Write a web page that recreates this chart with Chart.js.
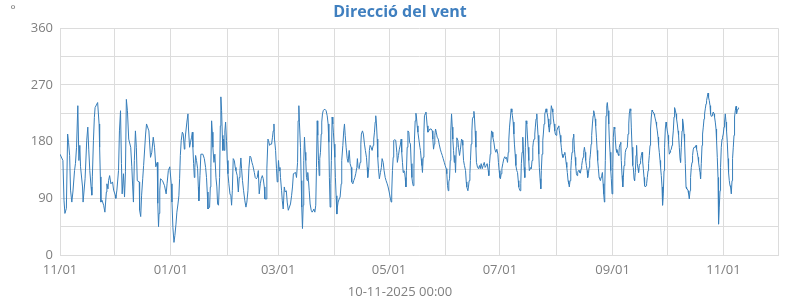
<!DOCTYPE html>
<html>
<head>
<meta charset="utf-8">
<script src="https://cdn.jsdelivr.net/npm/chart.js@4.4.1/dist/chart.umd.min.js"></script>
<style>
  html, body { margin: 0; padding: 0; background: #fff; }
  #chart { display: block; }
</style>
</head>
<body>
<canvas id="chart" width="800" height="300"></canvas>
<script>
// x axis: days since 2024-11-01, ticks at the first of each month
const monthTickDays = [0, 30, 61, 92, 120, 151, 181, 212, 242, 273, 304, 334, 365, 395];
const monthTickLabels = ['11/01', '', '01/01', '', '03/01', '', '05/01', '', '07/01', '', '09/01', '', '11/01', ''];
const yTickValues = [0, 45, 90, 135, 180, 225, 270, 315, 360];

// wind direction samples (day offset, degrees)
const dayOffsets = [
  0, 1.6, 2.2, 2.7, 3.5, 4.2, 4.7, 5.3, 5.8, 6.5, 7.1, 8, 8.5, 9.1, 9.8, 10.4, 10.9, 11.3, 12.4, 12.7,
  13.8, 14.7, 15.3, 15.8, 16.4, 17.1, 17.5, 17.8, 18.4, 18.9, 19.3, 20.7, 21.5, 21.8, 22.2, 22.5, 23.1, 24, 24.7, 25.5,
  25.8, 26.4, 26.7, 27.3, 28, 28.9, 29.5, 30.4, 30.7, 31.3, 32.2, 32.7, 33.3, 33.8, 34.2, 34.9, 35.5, 36, 36.5, 37.1,
  37.8, 38.9, 39.5, 40, 40.4, 40.9, 41.5, 42, 42.5, 43.6, 43.8, 44.4, 44.9, 45.5, 46, 47.1, 47.6, 48.9, 49.8, 50.5,
  51.3, 52, 52.7, 53.5, 53.8, 54.2, 54.5, 54.9, 55.3, 56.4, 57.5, 58.4, 58.9, 59.6, 60.4,
  61.2, 61.6, 62.1, 62.7, 63.2, 63.8, 64.3, 64.9, 65.4, 65.8, 66.2, 66.7, 67.3, 67.8, 68.4, 68.7, 69.1, 69.8, 70.4, 70.7,
  71.3, 71.8, 72.4, 72.8, 73.1, 73.5, 73.9, 74.2, 74.6, 75.1, 75.7, 76.1, 76.4, 77, 77.5, 78.6, 79.4, 80.1, 80.6, 81,
  81.4, 82.3, 82.7, 83, 83.4, 83.8, 84.1, 84.7, 85.2, 85.8, 86.3, 86.7, 87.2, 87.8, 88.2, 88.5, 88.9, 89.3, 89.6, 90,
  90.4, 90.7, 91.1, 91.6, 92, 92.4, 92.9, 93.5, 94, 94.4, 94.8, 95.3, 95.9, 96.4, 96.8, 97.5, 98.1, 98.6, 99, 99.5,
  99.9, 100.4, 101, 101.7, 102.3, 102.8, 103.4, 103.9, 104.5, 105, 105.6, 106.1, 106.9, 107.4, 108, 108.5, 109.1, 109.6, 110.2, 110.7,
  111.3, 111.8, 112.4, 112.7, 113.5, 113.8, 114.4, 114.7, 115.3, 115.8, 116.4, 116.9, 117.3, 117.7, 118, 118.6, 119.1, 119.5, 119.9, 120.2,
  120.6, 121, 121.3, 121.9, 122.3, 122.8, 123.4, 123.9, 124.5, 125, 125.6,
  126.8, 127.4, 127.9, 128.4, 129.6, 130.1, 130.7, 131, 131.4, 131.7, 132.3, 132.7, 133, 133.4, 133.8, 134.1, 134.5, 134.9, 135.2, 135.6,
  136, 136.3, 136.7, 137.1, 137.6, 138.2, 138.7, 139.3, 139.6, 140.2, 140.7, 141.1, 141.5, 141.8, 142.2, 142.6, 142.9, 143.3, 143.7, 144,
  144.4, 144.8, 145.3, 145.9, 146.4, 147, 147.5, 147.9, 148.2, 148.6, 149, 149.3, 149.7, 150.1, 150.4, 150.8, 151.2, 151.5, 151.9, 152.3,
  152.6, 153, 153.6, 154.1, 154.7, 155, 155.6, 156.1, 156.5, 156.9, 157.4, 158, 158.5, 159.1, 159.6, 160.2, 160.5, 161.1, 161.6, 162.2,
  162.7, 163.3, 163.6, 164, 164.6, 165.1, 165.5, 165.8, 166.4, 166.9, 167.5, 168, 168.6, 169, 169.3, 169.9, 170.2, 170.6, 171.2, 171.7,
  172.3, 172.6, 173, 173.4, 173.7, 174.1, 174.5, 174.8, 175.2, 175.7, 176.3, 176.8, 177.2, 177.8, 178.3, 178.9, 179.4, 180, 180.5, 181.1,
  181.6, 182.2, 182.5, 182.9, 183.3, 183.6, 184.2, 184.7, 185.3, 185.6, 186.2, 186.7, 187.3, 187.7, 188, 188.4, 188.8,
  189.2, 189.6, 189.9, 190.3, 190.6, 191, 191.4, 191.9, 192.3, 192.8, 193.2, 193.6, 193.9, 194.3, 194.7, 195, 195.4, 195.8, 196.1, 196.5,
  196.9, 197.4, 198, 198.3, 198.7, 199.1, 199.4, 199.8, 200.2, 200.5, 200.9, 201.3, 201.6, 202, 202.4, 202.9, 203.5, 204.2, 204.8, 205.1,
  205.5, 205.9, 206.2, 206.6, 207, 207.5, 208.1, 208.6, 209.2, 209.7, 210.3, 210.8, 211.4, 211.9, 212.5, 212.8, 213.2, 213.6, 213.9, 214.3,
  214.7, 215, 215.4, 215.8, 216.1, 216.5, 216.9, 217.2, 217.6, 218, 218.3, 218.9, 219.2, 219.8, 220.3, 220.9, 221.3, 221.6, 222, 222.5,
  223.1, 223.5, 223.8, 224.4, 224.7, 225.1, 225.5, 225.8, 226.2, 226.6, 226.9, 227.3, 227.7, 228, 228.4, 228.8, 229.1, 229.7, 230.2, 230.8,
  231.2, 231.7, 232.3, 232.8, 233.4, 233.9, 234.5, 235, 235.6, 235.9, 236.3, 236.7, 237, 237.4, 237.8, 238.1, 238.7, 239.2, 239.8, 240.3,
  240.9, 241.2, 241.6, 242, 242.3, 242.7, 243.1, 243.6, 244.2, 244.7, 245.1, 245.6, 246.2, 246.6, 246.9, 247.3, 247.8, 248.2, 248.6, 248.9,
  249.3, 249.7, 250, 250.4, 250.8, 251.3, 251.7, 252.1, 252.4,
  252.7, 253.1, 253.5, 253.8, 254.2, 254.6, 254.9, 255.3, 255.7, 256, 256.4, 256.8, 257.1, 257.5, 257.9, 258.2, 258.6, 259, 259.3, 259.7,
  260.1, 260.4, 260.8, 261.2, 261.5, 261.9, 262.3, 262.6, 263, 263.4, 263.7, 264.1, 264.5, 264.8, 265.2, 265.6, 265.9, 266.3, 266.7, 267,
  267.4, 267.8, 268.1, 268.5, 268.9, 269.2, 269.6, 270, 270.3, 270.7, 271.1, 271.4, 271.8, 272.2, 272.5, 272.9, 273.3, 273.6, 274, 274.4,
  274.7, 275.1, 275.5, 275.8, 276.2, 276.6, 276.9, 277.3, 277.7, 278, 278.4, 278.8, 279.1, 279.5, 279.9, 280.2, 280.6, 281, 281.3, 281.7,
  282.1, 282.4, 282.6, 283, 283.4, 283.7, 284.1, 284.5, 284.8, 285.2, 285.6, 285.9, 286.3, 286.7, 287, 287.4, 287.8, 288.1, 288.5, 288.9,
  289.2, 289.6, 290, 290.3, 290.7, 291.1, 291.4, 291.8, 292.2, 292.5, 292.9, 293.3, 293.6, 294, 294.4, 294.7, 295.1, 295.5, 295.8, 296.2,
  296.6, 296.9, 297.3, 297.7, 298, 298.4, 298.8, 299.1, 299.5, 299.7, 300, 300.4, 300.8, 301.1, 301.5, 301.9, 302.2, 302.6, 303, 303.3,
  303.7, 304.1, 304.4, 304.8, 305.2, 305.5, 305.9, 306.3, 306.6, 307, 307.4, 307.7, 308.1, 308.5, 308.8, 309.2, 309.6, 309.9, 310.3, 310.7,
  311, 311.4, 311.8, 312.1, 312.5, 312.9, 313.2, 313.6, 314, 314.3, 314.7, 315.1,
  315.4, 315.8, 316.1, 316.5, 316.9, 317.2, 317.6, 318, 318.3, 318.7, 319.1, 319.4, 319.8, 320.2, 320.5, 320.9, 321.3, 321.6, 322, 322.4,
  322.7, 323.1, 323.5, 323.8, 324.2, 324.6, 324.9, 325.3, 325.7, 326, 326.4, 326.8, 327.1, 327.5, 327.9, 328.2, 328.6, 329, 329.3, 329.7,
  330.1, 330.4, 330.8, 331.2, 331.5, 331.9, 332.3, 332.6, 333, 333.4, 333.7, 334.1, 334.5, 334.8, 335.2, 335.6, 335.9, 336.3, 336.7, 337,
  337.4, 337.8, 338.1, 338.5, 338.9, 339.2, 339.6, 340, 340.3, 340.7, 341.1, 341.4, 341.8, 342.2, 342.5, 342.9, 343.3, 343.6, 344, 344.4,
  344.7, 345.1, 345.5, 345.8, 346.2, 346.6, 346.9, 347.3, 347.7, 348, 348.4, 348.8, 349.1, 349.5, 349.9, 350.2, 350.6, 351, 351.3, 351.7,
  352.1, 352.4, 352.8, 353.2, 353.5, 353.9, 354.3, 354.6, 355, 355.4, 355.7, 356.1, 356.5, 356.8, 357.2, 357.6, 357.9, 358.3, 358.7, 359,
  359.4, 359.8, 360.1, 360.5, 360.9, 361.2, 361.6, 362, 362.3, 362.7, 363.1, 363.4, 363.8, 364.2, 364.5, 364.9, 365.3, 365.6, 366, 366.4,
  366.7, 367.1, 367.5, 367.8, 368.2, 368.6, 368.9, 369.3, 369.7, 370, 370.4, 370.8, 371.1, 371.5, 371.9, 372.2, 372.6, 373, 373.3
];
const windDirection = [
  160, 150, 87, 66, 74, 192, 179, 158, 103, 84, 100, 134, 145, 171, 237, 150, 174, 140, 108, 84,
  121, 182, 203, 168, 134, 108, 95, 124, 182, 218, 234, 242, 208, 171, 124, 84, 87, 79, 68, 100,
  113, 105, 118, 126, 113, 116, 103, 95, 90, 103, 134, 197, 229, 145, 97, 129, 92, 132, 247, 229,
  184, 171, 140, 108, 84, 150, 197, 171, 118, 116, 71, 61, 95, 121, 142, 192, 208, 197, 155, 163,
  187, 171, 140, 147, 82, 45, 66, 103, 121, 118, 110, 97, 113, 134, 140,
  113, 84, 44, 20, 31, 49, 68, 81, 94, 121, 158, 182, 195, 192, 168, 179, 192, 211, 224, 200,
  171, 179, 187, 195, 171, 145, 123, 139, 158, 150, 137, 108, 86, 126, 160, 160, 153, 139, 123, 100,
  73, 76, 108, 139, 213, 195, 171, 147, 160, 123, 108, 81, 79, 123, 205, 251, 229, 190, 166, 184,
  166, 197, 211, 182, 150, 129, 113, 97, 94, 79, 102, 153, 150, 139, 134, 126, 100, 123, 134, 154,
  137, 118, 102, 86, 76, 84, 102, 137, 157, 155, 147, 142, 131, 123, 121, 123, 134, 97, 113, 121,
  126, 121, 108, 89, 89, 137, 184, 182, 174, 176, 176, 187, 197, 208, 184, 166, 137, 116, 129, 150,
  134, 139, 123, 102, 86, 73, 108, 100, 102, 84, 71,
  81, 94, 108, 129, 131, 123, 147, 213, 237, 211, 171, 118, 76, 42, 79, 150, 187, 163, 150, 123,
  118, 131, 118, 102, 81, 71, 68, 71, 73, 68, 79, 139, 213, 190, 150, 126, 153, 163, 192, 211,
  224, 229, 231, 231, 229, 221, 208, 179, 123, 76, 113, 150, 219, 208, 195, 176, 155, 123, 94, 65,
  76, 84, 89, 92, 113, 150, 174, 197, 208, 190, 171, 153, 147, 166, 145, 139, 116, 113, 118, 123,
  129, 139, 153, 139, 137, 147, 176, 192, 197, 192, 176, 166, 155, 139, 123, 139, 166, 174, 171, 166,
  174, 184, 195, 211, 221, 208, 184, 155, 137, 121, 131, 139, 153, 147, 134, 123, 118, 113, 108, 100,
  92, 84, 100, 134, 155, 182, 183, 182, 163, 147, 158, 168, 176, 184, 163, 147, 131,
  134, 131, 123, 108, 134, 171, 197, 195, 179, 176, 145, 123, 116, 110, 137, 184, 213, 225, 219, 205,
  195, 184, 171, 166, 153, 142, 131, 155, 195, 221, 224, 227, 219, 205, 195, 197, 200, 200, 197, 184,
  168, 176, 190, 200, 195, 187, 184, 176, 168, 163, 158, 153, 147, 142, 137, 129, 110, 102, 116, 121,
  150, 197, 224, 203, 184, 166, 147, 158, 131, 171, 186, 182, 171, 158, 168, 184, 182, 174, 150, 142,
  134, 116, 108, 102, 108, 118, 129, 150, 176, 197, 216, 219, 228, 219, 197, 171, 147, 139, 137, 142,
  137, 145, 137, 142, 147, 139, 142, 145, 134, 126, 145, 160, 176, 197, 195, 187, 179, 168, 163, 168,
  160, 147, 134, 123, 121, 129, 137, 145, 153, 156, 153, 155, 147, 163, 182, 203, 219, 232, 227, 221,
  211, 192, 176, 160, 142, 134, 131, 118, 108,
  105, 102, 113, 145, 163, 187, 168, 139, 123, 171, 213, 208, 192, 171, 150, 134, 137, 139, 137, 150,
  171, 179, 184, 192, 203, 216, 224, 208, 190, 160, 139, 121, 105, 134, 160, 182, 192, 208, 224, 227,
  232, 227, 224, 216, 203, 195, 208, 224, 237, 232, 227, 216, 208, 197, 192, 190, 197, 200, 203, 205,
  197, 190, 179, 171, 160, 155, 155, 160, 163, 158, 147, 139, 131, 118, 113, 108, 118, 134, 150, 163,
  182, 187, 192, 168, 155, 142, 129, 126, 131, 134, 134, 131, 130, 137, 142, 150, 155, 163, 171, 163,
  150, 142, 134, 123, 129, 139, 150, 160, 176, 190, 208, 221, 229, 224, 216, 205, 187, 166, 150, 137,
  123, 121, 118, 123, 126, 131, 113, 97, 84, 108, 150, 221, 237, 242, 229, 208, 184, 163, 134, 121,
  97, 139, 187, 203, 200, 184, 168, 163, 166, 160, 158, 171, 176, 179, 150, 126, 108, 123, 142, 150,
  163, 168, 168, 171, 192, 208, 224, 232, 229, 203, 171, 142,
  139, 121, 118, 131, 158, 174, 145, 137, 131, 142, 145, 150, 158, 163, 150, 137, 123, 110, 108, 110,
  113, 123, 134, 145, 158, 174, 200, 219, 230, 228, 227, 224, 221, 216, 211, 205, 197, 187, 174, 163,
  150, 139, 126, 108, 79, 97, 134, 171, 200, 211, 205, 197, 190, 176, 160, 163, 166, 168, 174, 184,
  197, 219, 234, 230, 224, 216, 208, 197, 190, 171, 153, 147, 171, 197, 216, 208, 192, 179, 145, 108,
  105, 105, 102, 97, 89, 102, 123, 139, 147, 158, 168, 171, 171, 171, 174, 168, 163, 155, 147, 139,
  131, 121, 145, 174, 192, 203, 216, 224, 232, 240, 245, 251, 257, 250, 245, 237, 224, 220, 221, 224,
  227, 224, 219, 211, 200, 182, 155, 123, 49, 76, 102, 139, 171, 184, 187, 192, 203, 211, 224, 211,
  197, 179, 153, 131, 118, 110, 108, 97, 118, 153, 171, 190, 219, 229, 236, 224, 229, 232, 234
];

Chart.defaults.font.family = '"Open Sans", "DejaVu Sans", sans-serif';

const gridGray = '#dcdcdc';
const textGray = '#7f7f7f';

// small "°" unit mark in the top-left corner
const degreeMark = {
  id: 'degreeMark',
  afterDraw(chart) {
    const c = chart.ctx;
    c.save();
    c.font = '13px "Open Sans"';
    c.fillStyle = textGray;
    c.textAlign = 'center';
    c.fillText('°', 13, 14);
    c.restore();
  }
};

const points = dayOffsets.map((d, i) => ({ x: d, y: windDirection[i] }));

const ctx = document.getElementById('chart').getContext('2d');
new Chart(ctx, {
  type: 'line',
  data: {
    datasets: [{
      data: points,
      borderColor: 'rgb(55, 126, 186)',
      borderWidth: 1,
      pointRadius: 0,
      tension: 0,
      fill: false
    }]
  },
  options: {
    responsive: false,
    maintainAspectRatio: false,
    animation: false,
    // equal side padding keeps title and subtitle centred on the canvas
    layout: { padding: { left: 22, right: 22, top: 0, bottom: 0 } },
    plugins: {
      legend: { display: false },
      tooltip: { enabled: false },
      title: {
        display: true,
        text: 'Direcció del vent',
        color: '#3f7fbf',
        font: { size: 16, weight: 'bold' },
        padding: { top: 3, bottom: 6 }
      },
      subtitle: {
        display: true,
        position: 'bottom',
        text: '10-11-2025 00:00',
        color: textGray,
        font: { size: 13 },
        padding: { top: 0, bottom: 0 }
      }
    },
    scales: {
      x: {
        type: 'linear',
        min: 0,
        max: 395,
        afterBuildTicks: axis => { axis.ticks = monthTickDays.map(v => ({ value: v })); },
        afterFit: scale => { scale.height = 29.4; },
        ticks: {
          autoSkip: false,
          maxRotation: 0,
          padding: 7,
          color: textGray,
          font: { size: 13 },
          callback: (v, i) => monthTickLabels[i]
        },
        grid: { color: gridGray, drawTicks: false },
        border: { color: gridGray }
      },
      y: {
        min: 0,
        max: 360,
        afterBuildTicks: axis => { axis.ticks = yTickValues.map(v => ({ value: v })); },
        afterFit: scale => { scale.width = 38; },
        ticks: {
          padding: 7,
          color: textGray,
          font: { size: 13 },
          callback: v => (v % 90 === 0 ? v : '')
        },
        grid: { color: gridGray, drawTicks: false },
        border: { color: gridGray }
      }
    }
  },
  plugins: [degreeMark]
});
</script>
</body>
</html>
